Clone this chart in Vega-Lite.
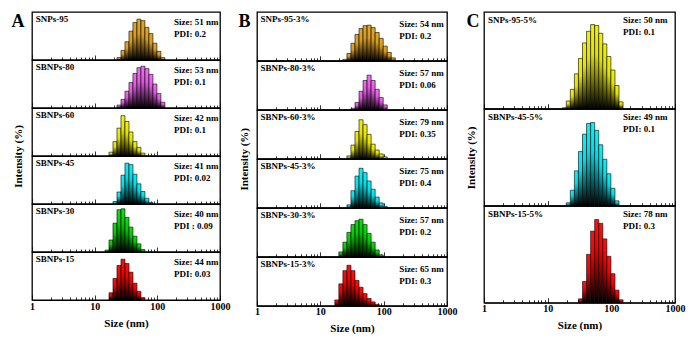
{
  "$schema": "https://vega.github.io/schema/vega-lite/v6.json",
  "background": "white",
  "padding": {"left": 10, "top": 11, "right": 0, "bottom": 0},
  "config": {
    "font": "Liberation Serif",
    "view": {"stroke": "black", "strokeWidth": 1.3},
    "text": {"font": "Liberation Serif", "fontWeight": "bold", "fontSize": 9, "color": "black"},
    "axisX": {"grid": false, "domainColor": "black", "domainWidth": 1, "tickColor": "black", "tickWidth": 0.8, "labelFlush": false, "labelOverlap": false, "labelFont": "Liberation Serif", "labelFontWeight": "bold", "labelFontSize": 10, "labelColor": "black", "titleFont": "Liberation Serif", "titleFontWeight": "bold", "titleFontSize": 11, "titleColor": "black"},
    "axisY": {"domain": false, "ticks": false, "labels": false, "grid": false, "titleFont": "Liberation Serif", "titleFontWeight": "bold", "titleColor": "black"}
  },
  "datasets": {
    "bins": [
      {"k": 0, "lo": 14.62, "hi": 16.93}, {"k": 1, "lo": 16.93, "hi": 19.6}, {"k": 2, "lo": 19.6, "hi": 22.7},
      {"k": 3, "lo": 22.7, "hi": 26.29}, {"k": 4, "lo": 26.29, "hi": 30.44}, {"k": 5, "lo": 30.44, "hi": 35.25},
      {"k": 6, "lo": 35.25, "hi": 40.82}, {"k": 7, "lo": 40.82, "hi": 47.27}, {"k": 8, "lo": 47.27, "hi": 54.74},
      {"k": 9, "lo": 54.74, "hi": 63.39}, {"k": 10, "lo": 63.39, "hi": 73.4}, {"k": 11, "lo": 73.4, "hi": 85.0},
      {"k": 12, "lo": 85.0, "hi": 98.4}, {"k": 13, "lo": 98.4, "hi": 114.0}, {"k": 14, "lo": 114.0, "hi": 132.0},
      {"k": 15, "lo": 132.0, "hi": 152.8}, {"k": 16, "lo": 152.8, "hi": 177.0}
    ],
    "labels": [
      {"s": "A1", "name": "SNPs-95", "info": ["Size: 51 nm", "PDI: 0.2"]},
      {"s": "A2", "name": "SBNPs-80", "info": ["Size: 53 nm", "PDI: 0.1"]},
      {"s": "A3", "name": "SBNPs-60", "info": ["Size: 42 nm", "PDI: 0.1"]},
      {"s": "A4", "name": "SBNPs-45", "info": ["Size: 41 nm", "PDI: 0.02"]},
      {"s": "A5", "name": "SBNPs-30", "info": ["Size: 40 nm", "PDI : 0.09"]},
      {"s": "A6", "name": "SBNPs-15", "info": ["Size: 44 nm", "PDI: 0.03"]},
      {"s": "B1", "name": "SNPs-95-3%", "info": ["Size: 54 nm", "PDI: 0.2"]},
      {"s": "B2", "name": "SBNPs-80-3%", "info": ["Size: 57 nm", "PDI: 0.06"]},
      {"s": "B3", "name": "SBNPs-60-3%", "info": ["Size: 79 nm", "PDI: 0.35"]},
      {"s": "B4", "name": "SBNPs-45-3%", "info": ["Size: 75 nm", "PDI: 0.4"]},
      {"s": "B5", "name": "SBNPs-30-3%", "info": ["Size: 57 nm", "PDI: 0.2"]},
      {"s": "B6", "name": "SBNPs-15-3%", "info": ["Size: 65 nm", "PDI: 0.3"]},
      {"s": "C1", "name": "SNPs-95-5%", "info": ["Size: 50 nm", "PDI: 0.1"]},
      {"s": "C2", "name": "SBNPs-45-5%", "info": ["Size: 49 nm", "PDI: 0.1"]},
      {"s": "C3", "name": "SBNPs-15-5%", "info": ["Size: 78 nm", "PDI: 0.3"]}
    ],
    "hist": [
      {"s": "A1", "k": 3, "v": 1}, {"s": "A1", "k": 4, "v": 4}, {"s": "A1", "k": 5, "v": 7.6}, {"s": "A1", "k": 6, "v": 12}, {"s": "A1", "k": 7, "v": 15.6}, {"s": "A1", "k": 8, "v": 17}, {"s": "A1", "k": 9, "v": 16.4}, {"s": "A1", "k": 10, "v": 13.6}, {"s": "A1", "k": 11, "v": 11}, {"s": "A1", "k": 12, "v": 7}, {"s": "A1", "k": 13, "v": 3.6}, {"s": "A1", "k": 14, "v": 1},
      {"s": "A2", "k": 3, "v": 1.2}, {"s": "A2", "k": 4, "v": 3.6}, {"s": "A2", "k": 5, "v": 7}, {"s": "A2", "k": 6, "v": 10.6}, {"s": "A2", "k": 7, "v": 14.4}, {"s": "A2", "k": 8, "v": 16.8}, {"s": "A2", "k": 9, "v": 17.4}, {"s": "A2", "k": 10, "v": 16.4}, {"s": "A2", "k": 11, "v": 14}, {"s": "A2", "k": 12, "v": 10}, {"s": "A2", "k": 13, "v": 6}, {"s": "A2", "k": 14, "v": 2.4},
      {"s": "A3", "k": 1, "v": 1.6}, {"s": "A3", "k": 2, "v": 6}, {"s": "A3", "k": 3, "v": 11.6}, {"s": "A3", "k": 4, "v": 16.8}, {"s": "A3", "k": 5, "v": 14.4}, {"s": "A3", "k": 6, "v": 10}, {"s": "A3", "k": 7, "v": 6}, {"s": "A3", "k": 8, "v": 3.6}, {"s": "A3", "k": 9, "v": 1.2},
      {"s": "A4", "k": 2, "v": 1}, {"s": "A4", "k": 3, "v": 5}, {"s": "A4", "k": 4, "v": 12}, {"s": "A4", "k": 5, "v": 17}, {"s": "A4", "k": 6, "v": 16.4}, {"s": "A4", "k": 7, "v": 12.4}, {"s": "A4", "k": 8, "v": 8.4}, {"s": "A4", "k": 9, "v": 5.2}, {"s": "A4", "k": 10, "v": 2.4}, {"s": "A4", "k": 11, "v": 0.6},
      {"s": "A5", "k": 0, "v": 0.8}, {"s": "A5", "k": 1, "v": 5}, {"s": "A5", "k": 2, "v": 12}, {"s": "A5", "k": 3, "v": 17.6}, {"s": "A5", "k": 4, "v": 18}, {"s": "A5", "k": 5, "v": 14.4}, {"s": "A5", "k": 6, "v": 10.4}, {"s": "A5", "k": 7, "v": 6.6}, {"s": "A5", "k": 8, "v": 3.4}, {"s": "A5", "k": 9, "v": 1},
      {"s": "A6", "k": 1, "v": 3}, {"s": "A6", "k": 2, "v": 9}, {"s": "A6", "k": 3, "v": 14.4}, {"s": "A6", "k": 4, "v": 17}, {"s": "A6", "k": 5, "v": 15.2}, {"s": "A6", "k": 6, "v": 11.6}, {"s": "A6", "k": 7, "v": 7}, {"s": "A6", "k": 8, "v": 3.6}, {"s": "A6", "k": 9, "v": 1},
      {"s": "B1", "k": 3, "v": 0.6}, {"s": "B1", "k": 4, "v": 3}, {"s": "B1", "k": 5, "v": 7.2}, {"s": "B1", "k": 6, "v": 10.8}, {"s": "B1", "k": 7, "v": 13.2}, {"s": "B1", "k": 8, "v": 14.4}, {"s": "B1", "k": 9, "v": 14.6}, {"s": "B1", "k": 10, "v": 13.6}, {"s": "B1", "k": 11, "v": 11.6}, {"s": "B1", "k": 12, "v": 9.2}, {"s": "B1", "k": 13, "v": 6}, {"s": "B1", "k": 14, "v": 3.4}, {"s": "B1", "k": 15, "v": 1.2},
      {"s": "B2", "k": 5, "v": 0.6}, {"s": "B2", "k": 6, "v": 3}, {"s": "B2", "k": 7, "v": 7.6}, {"s": "B2", "k": 8, "v": 12}, {"s": "B2", "k": 9, "v": 14.2}, {"s": "B2", "k": 10, "v": 12}, {"s": "B2", "k": 11, "v": 8.4}, {"s": "B2", "k": 12, "v": 5}, {"s": "B2", "k": 13, "v": 2},
      {"s": "B3", "k": 4, "v": 1.2}, {"s": "B3", "k": 5, "v": 5.6}, {"s": "B3", "k": 6, "v": 11.2}, {"s": "B3", "k": 7, "v": 16}, {"s": "B3", "k": 8, "v": 14}, {"s": "B3", "k": 9, "v": 10}, {"s": "B3", "k": 10, "v": 6}, {"s": "B3", "k": 11, "v": 3.6}, {"s": "B3", "k": 12, "v": 2}, {"s": "B3", "k": 13, "v": 0.8},
      {"s": "B4", "k": 4, "v": 1.2}, {"s": "B4", "k": 5, "v": 7}, {"s": "B4", "k": 6, "v": 13}, {"s": "B4", "k": 7, "v": 16.2}, {"s": "B4", "k": 8, "v": 14.4}, {"s": "B4", "k": 9, "v": 11}, {"s": "B4", "k": 10, "v": 7.6}, {"s": "B4", "k": 11, "v": 4.4}, {"s": "B4", "k": 12, "v": 2}, {"s": "B4", "k": 13, "v": 0.6},
      {"s": "B5", "k": 2, "v": 2}, {"s": "B5", "k": 3, "v": 6}, {"s": "B5", "k": 4, "v": 10}, {"s": "B5", "k": 5, "v": 13.2}, {"s": "B5", "k": 6, "v": 14.8}, {"s": "B5", "k": 7, "v": 15.4}, {"s": "B5", "k": 8, "v": 13.2}, {"s": "B5", "k": 9, "v": 9.6}, {"s": "B5", "k": 10, "v": 6}, {"s": "B5", "k": 11, "v": 2.8}, {"s": "B5", "k": 12, "v": 0.8},
      {"s": "B6", "k": 1, "v": 2.4}, {"s": "B6", "k": 2, "v": 9}, {"s": "B6", "k": 3, "v": 14.4}, {"s": "B6", "k": 4, "v": 16.6}, {"s": "B6", "k": 5, "v": 14.4}, {"s": "B6", "k": 6, "v": 10.4}, {"s": "B6", "k": 7, "v": 7.6}, {"s": "B6", "k": 8, "v": 5}, {"s": "B6", "k": 9, "v": 3}, {"s": "B6", "k": 10, "v": 1.6}, {"s": "B6", "k": 11, "v": 0.6},
      {"s": "C1", "k": 1, "v": 0.2}, {"s": "C1", "k": 2, "v": 1.6}, {"s": "C1", "k": 3, "v": 4}, {"s": "C1", "k": 4, "v": 7.2}, {"s": "C1", "k": 5, "v": 10.4}, {"s": "C1", "k": 6, "v": 13.6}, {"s": "C1", "k": 7, "v": 16}, {"s": "C1", "k": 8, "v": 17.4}, {"s": "C1", "k": 9, "v": 17.2}, {"s": "C1", "k": 10, "v": 15.6}, {"s": "C1", "k": 11, "v": 13.4}, {"s": "C1", "k": 12, "v": 10.8}, {"s": "C1", "k": 13, "v": 8}, {"s": "C1", "k": 14, "v": 4.8}, {"s": "C1", "k": 15, "v": 1.4},
      {"s": "C2", "k": 2, "v": 0.6}, {"s": "C2", "k": 3, "v": 3.2}, {"s": "C2", "k": 4, "v": 7.2}, {"s": "C2", "k": 5, "v": 11.2}, {"s": "C2", "k": 6, "v": 14.8}, {"s": "C2", "k": 7, "v": 17}, {"s": "C2", "k": 8, "v": 17.2}, {"s": "C2", "k": 9, "v": 15.6}, {"s": "C2", "k": 10, "v": 12.6}, {"s": "C2", "k": 11, "v": 9.6}, {"s": "C2", "k": 12, "v": 6.6}, {"s": "C2", "k": 13, "v": 3.6}, {"s": "C2", "k": 14, "v": 1},
      {"s": "C3", "k": 5, "v": 0.8}, {"s": "C3", "k": 6, "v": 4.4}, {"s": "C3", "k": 7, "v": 10}, {"s": "C3", "k": 8, "v": 14.8}, {"s": "C3", "k": 9, "v": 17.2}, {"s": "C3", "k": 10, "v": 16.4}, {"s": "C3", "k": 11, "v": 13.2}, {"s": "C3", "k": 12, "v": 9.6}, {"s": "C3", "k": 13, "v": 6}, {"s": "C3", "k": 14, "v": 2.6}, {"s": "C3", "k": 15, "v": 0.6}
    ]
  },
  "data": {"name": "hist"},
  "transform": [{"lookup": "k", "from": {"data": {"name": "bins"}, "key": "k", "fields": ["lo", "hi"]}}],
  "spacing": 6,
  "hconcat": [
    {
      "bounds": "flush", "spacing": 0,
      "vconcat": [
        {"width": 188, "height": 48, "layer": [
          {"transform": [{"filter": "datum.s === 'A1'"}], "mark": {"type": "bar", "stroke": "black", "strokeWidth": 0.6, "fill": {"gradient": "linear", "x1": 0, "y1": 0, "x2": 0, "y2": 1, "stops": [{"offset": 0, "color": "#E0A52C"}, {"offset": 0.35, "color": "#D89C24"}, {"offset": 1, "color": "#000000"}]}},
           "encoding": {"x": {"field": "lo", "type": "quantitative", "scale": {"type": "log", "domain": [1, 1000]}, "axis": {"values": [1,2,3,4,5,6,7,8,9,10,20,30,40,50,60,70,80,90,100,200,300,400,500,600,700,800,900,1000], "labels": false, "title": null, "tickSize": {"condition": {"test": "datum.value===1||datum.value===10||datum.value===100||datum.value===1000", "value": -5}, "value": -3}}},
             "x2": {"field": "hi"},
             "y": {"field": "v", "type": "quantitative", "scale": {"domain": [0, 20]}, "axis": {"title": "A", "titleAngle": 0, "titleAnchor": "end", "titleAlign": "right", "titleBaseline": "top", "titleFontSize": 18, "titlePadding": 8}}, "y2": {"datum": 0}}},
          {"data": {"name": "labels"}, "transform": [{"filter": "datum.s === 'A1'"}], "mark": {"type": "text", "align": "left", "baseline": "middle"}, "encoding": {"x": {"datum": 1.15}, "y": {"datum": 17.1}, "text": {"field": "name"}}},
          {"data": {"name": "labels"}, "transform": [{"filter": "datum.s === 'A1'"}], "mark": {"type": "text", "align": "left", "baseline": "top", "lineHeight": 12}, "encoding": {"x": {"datum": 184}, "y": {"datum": 17.7}, "text": {"field": "info"}}}
        ]},
        {"width": 188, "height": 48, "layer": [
          {"transform": [{"filter": "datum.s === 'A2'"}], "mark": {"type": "bar", "stroke": "black", "strokeWidth": 0.6, "fill": {"gradient": "linear", "x1": 0, "y1": 0, "x2": 0, "y2": 1, "stops": [{"offset": 0, "color": "#F070F0"}, {"offset": 0.35, "color": "#E058E0"}, {"offset": 1, "color": "#000000"}]}},
           "encoding": {"x": {"field": "lo", "type": "quantitative", "scale": {"type": "log", "domain": [1, 1000]}, "axis": {"values": [1,2,3,4,5,6,7,8,9,10,20,30,40,50,60,70,80,90,100,200,300,400,500,600,700,800,900,1000], "labels": false, "title": null, "tickSize": {"condition": {"test": "datum.value===1||datum.value===10||datum.value===100||datum.value===1000", "value": -5}, "value": -3}}},
             "x2": {"field": "hi"},
             "y": {"field": "v", "type": "quantitative", "scale": {"domain": [0, 20]}, "axis": null}, "y2": {"datum": 0}}},
          {"data": {"name": "labels"}, "transform": [{"filter": "datum.s === 'A2'"}], "mark": {"type": "text", "align": "left", "baseline": "middle"}, "encoding": {"x": {"datum": 1.15}, "y": {"datum": 17.1}, "text": {"field": "name"}}},
          {"data": {"name": "labels"}, "transform": [{"filter": "datum.s === 'A2'"}], "mark": {"type": "text", "align": "left", "baseline": "top", "lineHeight": 12}, "encoding": {"x": {"datum": 184}, "y": {"datum": 17.7}, "text": {"field": "info"}}}
        ]},
        {"width": 188, "height": 48, "layer": [
          {"transform": [{"filter": "datum.s === 'A3'"}], "mark": {"type": "bar", "stroke": "black", "strokeWidth": 0.6, "fill": {"gradient": "linear", "x1": 0, "y1": 0, "x2": 0, "y2": 1, "stops": [{"offset": 0, "color": "#F2F200"}, {"offset": 0.35, "color": "#E2E200"}, {"offset": 1, "color": "#000000"}]}},
           "encoding": {"x": {"field": "lo", "type": "quantitative", "scale": {"type": "log", "domain": [1, 1000]}, "axis": {"values": [1,2,3,4,5,6,7,8,9,10,20,30,40,50,60,70,80,90,100,200,300,400,500,600,700,800,900,1000], "labels": false, "title": null, "tickSize": {"condition": {"test": "datum.value===1||datum.value===10||datum.value===100||datum.value===1000", "value": -5}, "value": -3}}},
             "x2": {"field": "hi"},
             "y": {"field": "v", "type": "quantitative", "scale": {"domain": [0, 20]}, "axis": {"title": "Intensity (%)", "titleAnchor": "start", "titleAlign": "center", "titleFontSize": 11, "titlePadding": 9}}, "y2": {"datum": 0}}},
          {"data": {"name": "labels"}, "transform": [{"filter": "datum.s === 'A3'"}], "mark": {"type": "text", "align": "left", "baseline": "middle"}, "encoding": {"x": {"datum": 1.15}, "y": {"datum": 17.1}, "text": {"field": "name"}}},
          {"data": {"name": "labels"}, "transform": [{"filter": "datum.s === 'A3'"}], "mark": {"type": "text", "align": "left", "baseline": "top", "lineHeight": 12}, "encoding": {"x": {"datum": 184}, "y": {"datum": 17.7}, "text": {"field": "info"}}}
        ]},
        {"width": 188, "height": 48, "layer": [
          {"transform": [{"filter": "datum.s === 'A4'"}], "mark": {"type": "bar", "stroke": "black", "strokeWidth": 0.6, "fill": {"gradient": "linear", "x1": 0, "y1": 0, "x2": 0, "y2": 1, "stops": [{"offset": 0, "color": "#10F0F8"}, {"offset": 0.35, "color": "#00DCE6"}, {"offset": 1, "color": "#000000"}]}},
           "encoding": {"x": {"field": "lo", "type": "quantitative", "scale": {"type": "log", "domain": [1, 1000]}, "axis": {"values": [1,2,3,4,5,6,7,8,9,10,20,30,40,50,60,70,80,90,100,200,300,400,500,600,700,800,900,1000], "labels": false, "title": null, "tickSize": {"condition": {"test": "datum.value===1||datum.value===10||datum.value===100||datum.value===1000", "value": -5}, "value": -3}}},
             "x2": {"field": "hi"},
             "y": {"field": "v", "type": "quantitative", "scale": {"domain": [0, 20]}, "axis": null}, "y2": {"datum": 0}}},
          {"data": {"name": "labels"}, "transform": [{"filter": "datum.s === 'A4'"}], "mark": {"type": "text", "align": "left", "baseline": "middle"}, "encoding": {"x": {"datum": 1.15}, "y": {"datum": 17.1}, "text": {"field": "name"}}},
          {"data": {"name": "labels"}, "transform": [{"filter": "datum.s === 'A4'"}], "mark": {"type": "text", "align": "left", "baseline": "top", "lineHeight": 12}, "encoding": {"x": {"datum": 184}, "y": {"datum": 17.7}, "text": {"field": "info"}}}
        ]},
        {"width": 188, "height": 48, "layer": [
          {"transform": [{"filter": "datum.s === 'A5'"}], "mark": {"type": "bar", "stroke": "black", "strokeWidth": 0.6, "fill": {"gradient": "linear", "x1": 0, "y1": 0, "x2": 0, "y2": 1, "stops": [{"offset": 0, "color": "#10E010"}, {"offset": 0.35, "color": "#00C800"}, {"offset": 1, "color": "#000000"}]}},
           "encoding": {"x": {"field": "lo", "type": "quantitative", "scale": {"type": "log", "domain": [1, 1000]}, "axis": {"values": [1,2,3,4,5,6,7,8,9,10,20,30,40,50,60,70,80,90,100,200,300,400,500,600,700,800,900,1000], "labels": false, "title": null, "tickSize": {"condition": {"test": "datum.value===1||datum.value===10||datum.value===100||datum.value===1000", "value": -5}, "value": -3}}},
             "x2": {"field": "hi"},
             "y": {"field": "v", "type": "quantitative", "scale": {"domain": [0, 20]}, "axis": null}, "y2": {"datum": 0}}},
          {"data": {"name": "labels"}, "transform": [{"filter": "datum.s === 'A5'"}], "mark": {"type": "text", "align": "left", "baseline": "middle"}, "encoding": {"x": {"datum": 1.15}, "y": {"datum": 17.1}, "text": {"field": "name"}}},
          {"data": {"name": "labels"}, "transform": [{"filter": "datum.s === 'A5'"}], "mark": {"type": "text", "align": "left", "baseline": "top", "lineHeight": 12}, "encoding": {"x": {"datum": 184}, "y": {"datum": 17.7}, "text": {"field": "info"}}}
        ]},
        {"width": 188, "height": 48, "layer": [
          {"transform": [{"filter": "datum.s === 'A6'"}], "mark": {"type": "bar", "stroke": "black", "strokeWidth": 0.6, "fill": {"gradient": "linear", "x1": 0, "y1": 0, "x2": 0, "y2": 1, "stops": [{"offset": 0, "color": "#FF1010"}, {"offset": 0.35, "color": "#F00000"}, {"offset": 1, "color": "#000000"}]}},
           "encoding": {"x": {"field": "lo", "type": "quantitative", "scale": {"type": "log", "domain": [1, 1000]}, "axis": {"values": [1,2,3,4,5,6,7,8,9,10,20,30,40,50,60,70,80,90,100,200,300,400,500,600,700,800,900,1000], "labels": true, "labelExpr": "datum.value===1||datum.value===10||datum.value===100||datum.value===1000 ? '' + datum.value : ''", "labelPadding": 6, "title": "Size (nm)", "titlePadding": 4, "tickSize": {"condition": {"test": "datum.value===1||datum.value===10||datum.value===100||datum.value===1000", "value": -5}, "value": -3}}},
             "x2": {"field": "hi"},
             "y": {"field": "v", "type": "quantitative", "scale": {"domain": [0, 20]}, "axis": null}, "y2": {"datum": 0}}},
          {"data": {"name": "labels"}, "transform": [{"filter": "datum.s === 'A6'"}], "mark": {"type": "text", "align": "left", "baseline": "middle"}, "encoding": {"x": {"datum": 1.15}, "y": {"datum": 17.1}, "text": {"field": "name"}}},
          {"data": {"name": "labels"}, "transform": [{"filter": "datum.s === 'A6'"}], "mark": {"type": "text", "align": "left", "baseline": "top", "lineHeight": 12}, "encoding": {"x": {"datum": 184}, "y": {"datum": 17.7}, "text": {"field": "info"}}}
        ]}
      ]
    },
    {
      "bounds": "flush", "spacing": 0,
      "vconcat": [
        {"width": 190, "height": 48.8, "layer": [
          {"transform": [{"filter": "datum.s === 'B1'"}], "mark": {"type": "bar", "stroke": "black", "strokeWidth": 0.6, "fill": {"gradient": "linear", "x1": 0, "y1": 0, "x2": 0, "y2": 1, "stops": [{"offset": 0, "color": "#E0A52C"}, {"offset": 0.35, "color": "#D89C24"}, {"offset": 1, "color": "#000000"}]}},
           "encoding": {"x": {"field": "lo", "type": "quantitative", "scale": {"type": "log", "domain": [1, 1000]}, "axis": {"values": [1,2,3,4,5,6,7,8,9,10,20,30,40,50,60,70,80,90,100,200,300,400,500,600,700,800,900,1000], "labels": false, "title": null, "tickSize": {"condition": {"test": "datum.value===1||datum.value===10||datum.value===100||datum.value===1000", "value": -5}, "value": -3}}},
             "x2": {"field": "hi"},
             "y": {"field": "v", "type": "quantitative", "scale": {"domain": [0, 20]}, "axis": {"title": "B", "titleAngle": 0, "titleAnchor": "end", "titleAlign": "right", "titleBaseline": "top", "titleFontSize": 18, "titlePadding": 7}}, "y2": {"datum": 0}}},
          {"data": {"name": "labels"}, "transform": [{"filter": "datum.s === 'B1'"}], "mark": {"type": "text", "align": "left", "baseline": "middle"}, "encoding": {"x": {"datum": 1.14}, "y": {"datum": 17.2}, "text": {"field": "name"}}},
          {"data": {"name": "labels"}, "transform": [{"filter": "datum.s === 'B1'"}], "mark": {"type": "text", "align": "left", "baseline": "top", "lineHeight": 12}, "encoding": {"x": {"datum": 177}, "y": {"datum": 16.9}, "text": {"field": "info"}}}
        ]},
        {"width": 190, "height": 48.8, "layer": [
          {"transform": [{"filter": "datum.s === 'B2'"}], "mark": {"type": "bar", "stroke": "black", "strokeWidth": 0.6, "fill": {"gradient": "linear", "x1": 0, "y1": 0, "x2": 0, "y2": 1, "stops": [{"offset": 0, "color": "#F070F0"}, {"offset": 0.35, "color": "#E058E0"}, {"offset": 1, "color": "#000000"}]}},
           "encoding": {"x": {"field": "lo", "type": "quantitative", "scale": {"type": "log", "domain": [1, 1000]}, "axis": {"values": [1,2,3,4,5,6,7,8,9,10,20,30,40,50,60,70,80,90,100,200,300,400,500,600,700,800,900,1000], "labels": false, "title": null, "tickSize": {"condition": {"test": "datum.value===1||datum.value===10||datum.value===100||datum.value===1000", "value": -5}, "value": -3}}},
             "x2": {"field": "hi"},
             "y": {"field": "v", "type": "quantitative", "scale": {"domain": [0, 20]}, "axis": null}, "y2": {"datum": 0}}},
          {"data": {"name": "labels"}, "transform": [{"filter": "datum.s === 'B2'"}], "mark": {"type": "text", "align": "left", "baseline": "middle"}, "encoding": {"x": {"datum": 1.14}, "y": {"datum": 17.2}, "text": {"field": "name"}}},
          {"data": {"name": "labels"}, "transform": [{"filter": "datum.s === 'B2'"}], "mark": {"type": "text", "align": "left", "baseline": "top", "lineHeight": 12}, "encoding": {"x": {"datum": 177}, "y": {"datum": 16.9}, "text": {"field": "info"}}}
        ]},
        {"width": 190, "height": 48.8, "layer": [
          {"transform": [{"filter": "datum.s === 'B3'"}], "mark": {"type": "bar", "stroke": "black", "strokeWidth": 0.6, "fill": {"gradient": "linear", "x1": 0, "y1": 0, "x2": 0, "y2": 1, "stops": [{"offset": 0, "color": "#F2F200"}, {"offset": 0.35, "color": "#E2E200"}, {"offset": 1, "color": "#000000"}]}},
           "encoding": {"x": {"field": "lo", "type": "quantitative", "scale": {"type": "log", "domain": [1, 1000]}, "axis": {"values": [1,2,3,4,5,6,7,8,9,10,20,30,40,50,60,70,80,90,100,200,300,400,500,600,700,800,900,1000], "labels": false, "title": null, "tickSize": {"condition": {"test": "datum.value===1||datum.value===10||datum.value===100||datum.value===1000", "value": -5}, "value": -3}}},
             "x2": {"field": "hi"},
             "y": {"field": "v", "type": "quantitative", "scale": {"domain": [0, 20]}, "axis": {"title": "Intensity (%)", "titleAnchor": "start", "titleAlign": "center", "titleFontSize": 11, "titlePadding": 8}}, "y2": {"datum": 0}}},
          {"data": {"name": "labels"}, "transform": [{"filter": "datum.s === 'B3'"}], "mark": {"type": "text", "align": "left", "baseline": "middle"}, "encoding": {"x": {"datum": 1.14}, "y": {"datum": 17.2}, "text": {"field": "name"}}},
          {"data": {"name": "labels"}, "transform": [{"filter": "datum.s === 'B3'"}], "mark": {"type": "text", "align": "left", "baseline": "top", "lineHeight": 12}, "encoding": {"x": {"datum": 177}, "y": {"datum": 16.9}, "text": {"field": "info"}}}
        ]},
        {"width": 190, "height": 48.8, "layer": [
          {"transform": [{"filter": "datum.s === 'B4'"}], "mark": {"type": "bar", "stroke": "black", "strokeWidth": 0.6, "fill": {"gradient": "linear", "x1": 0, "y1": 0, "x2": 0, "y2": 1, "stops": [{"offset": 0, "color": "#10F0F8"}, {"offset": 0.35, "color": "#00DCE6"}, {"offset": 1, "color": "#000000"}]}},
           "encoding": {"x": {"field": "lo", "type": "quantitative", "scale": {"type": "log", "domain": [1, 1000]}, "axis": {"values": [1,2,3,4,5,6,7,8,9,10,20,30,40,50,60,70,80,90,100,200,300,400,500,600,700,800,900,1000], "labels": false, "title": null, "tickSize": {"condition": {"test": "datum.value===1||datum.value===10||datum.value===100||datum.value===1000", "value": -5}, "value": -3}}},
             "x2": {"field": "hi"},
             "y": {"field": "v", "type": "quantitative", "scale": {"domain": [0, 20]}, "axis": null}, "y2": {"datum": 0}}},
          {"data": {"name": "labels"}, "transform": [{"filter": "datum.s === 'B4'"}], "mark": {"type": "text", "align": "left", "baseline": "middle"}, "encoding": {"x": {"datum": 1.14}, "y": {"datum": 17.2}, "text": {"field": "name"}}},
          {"data": {"name": "labels"}, "transform": [{"filter": "datum.s === 'B4'"}], "mark": {"type": "text", "align": "left", "baseline": "top", "lineHeight": 12}, "encoding": {"x": {"datum": 177}, "y": {"datum": 16.9}, "text": {"field": "info"}}}
        ]},
        {"width": 190, "height": 48.8, "layer": [
          {"transform": [{"filter": "datum.s === 'B5'"}], "mark": {"type": "bar", "stroke": "black", "strokeWidth": 0.6, "fill": {"gradient": "linear", "x1": 0, "y1": 0, "x2": 0, "y2": 1, "stops": [{"offset": 0, "color": "#10E010"}, {"offset": 0.35, "color": "#00C800"}, {"offset": 1, "color": "#000000"}]}},
           "encoding": {"x": {"field": "lo", "type": "quantitative", "scale": {"type": "log", "domain": [1, 1000]}, "axis": {"values": [1,2,3,4,5,6,7,8,9,10,20,30,40,50,60,70,80,90,100,200,300,400,500,600,700,800,900,1000], "labels": false, "title": null, "tickSize": {"condition": {"test": "datum.value===1||datum.value===10||datum.value===100||datum.value===1000", "value": -5}, "value": -3}}},
             "x2": {"field": "hi"},
             "y": {"field": "v", "type": "quantitative", "scale": {"domain": [0, 20]}, "axis": null}, "y2": {"datum": 0}}},
          {"data": {"name": "labels"}, "transform": [{"filter": "datum.s === 'B5'"}], "mark": {"type": "text", "align": "left", "baseline": "middle"}, "encoding": {"x": {"datum": 1.14}, "y": {"datum": 17.2}, "text": {"field": "name"}}},
          {"data": {"name": "labels"}, "transform": [{"filter": "datum.s === 'B5'"}], "mark": {"type": "text", "align": "left", "baseline": "top", "lineHeight": 12}, "encoding": {"x": {"datum": 177}, "y": {"datum": 16.9}, "text": {"field": "info"}}}
        ]},
        {"width": 190, "height": 48.8, "layer": [
          {"transform": [{"filter": "datum.s === 'B6'"}], "mark": {"type": "bar", "stroke": "black", "strokeWidth": 0.6, "fill": {"gradient": "linear", "x1": 0, "y1": 0, "x2": 0, "y2": 1, "stops": [{"offset": 0, "color": "#FF1010"}, {"offset": 0.35, "color": "#F00000"}, {"offset": 1, "color": "#000000"}]}},
           "encoding": {"x": {"field": "lo", "type": "quantitative", "scale": {"type": "log", "domain": [1, 1000]}, "axis": {"values": [1,2,3,4,5,6,7,8,9,10,20,30,40,50,60,70,80,90,100,200,300,400,500,600,700,800,900,1000], "labels": true, "labelExpr": "datum.value===1||datum.value===10||datum.value===100||datum.value===1000 ? '' + datum.value : ''", "labelPadding": 6, "title": "Size (nm)", "titlePadding": 4, "tickSize": {"condition": {"test": "datum.value===1||datum.value===10||datum.value===100||datum.value===1000", "value": -5}, "value": -3}}},
             "x2": {"field": "hi"},
             "y": {"field": "v", "type": "quantitative", "scale": {"domain": [0, 20]}, "axis": null}, "y2": {"datum": 0}}},
          {"data": {"name": "labels"}, "transform": [{"filter": "datum.s === 'B6'"}], "mark": {"type": "text", "align": "left", "baseline": "middle"}, "encoding": {"x": {"datum": 1.14}, "y": {"datum": 17.2}, "text": {"field": "name"}}},
          {"data": {"name": "labels"}, "transform": [{"filter": "datum.s === 'B6'"}], "mark": {"type": "text", "align": "left", "baseline": "top", "lineHeight": 12}, "encoding": {"x": {"datum": 177}, "y": {"datum": 16.9}, "text": {"field": "info"}}}
        ]}
      ]
    },
    {
      "bounds": "flush", "spacing": 0,
      "vconcat": [
        {"width": 191, "height": 96.7, "layer": [
          {"transform": [{"filter": "datum.s === 'C1'"}], "mark": {"type": "bar", "stroke": "black", "strokeWidth": 0.6, "fill": {"gradient": "linear", "x1": 0, "y1": 0, "x2": 0, "y2": 1, "stops": [{"offset": 0, "color": "#F2F200"}, {"offset": 0.35, "color": "#E2E200"}, {"offset": 1, "color": "#000000"}]}},
           "encoding": {"x": {"field": "lo", "type": "quantitative", "scale": {"type": "log", "domain": [1, 1000]}, "axis": {"values": [1,2,3,4,5,6,7,8,9,10,20,30,40,50,60,70,80,90,100,200,300,400,500,600,700,800,900,1000], "labels": false, "title": null, "tickSize": {"condition": {"test": "datum.value===1||datum.value===10||datum.value===100||datum.value===1000", "value": -5}, "value": -3}}},
             "x2": {"field": "hi"},
             "y": {"field": "v", "type": "quantitative", "scale": {"domain": [0, 20]}, "axis": {"title": "C", "titleAngle": 0, "titleAnchor": "end", "titleAlign": "right", "titleBaseline": "top", "titleFontSize": 18, "titlePadding": 5}}, "y2": {"datum": 0}}},
          {"data": {"name": "labels"}, "transform": [{"filter": "datum.s === 'C1'"}], "mark": {"type": "text", "align": "left", "baseline": "middle"}, "encoding": {"x": {"datum": 1.155}, "y": {"datum": 18.3}, "text": {"field": "name"}}},
          {"data": {"name": "labels"}, "transform": [{"filter": "datum.s === 'C1'"}], "mark": {"type": "text", "align": "left", "baseline": "top", "lineHeight": 12}, "encoding": {"x": {"datum": 152}, "y": {"datum": 19.2}, "text": {"field": "info"}}}
        ]},
        {"width": 191, "height": 96.7, "layer": [
          {"transform": [{"filter": "datum.s === 'C2'"}], "mark": {"type": "bar", "stroke": "black", "strokeWidth": 0.6, "fill": {"gradient": "linear", "x1": 0, "y1": 0, "x2": 0, "y2": 1, "stops": [{"offset": 0, "color": "#10F0F8"}, {"offset": 0.35, "color": "#00DCE6"}, {"offset": 1, "color": "#000000"}]}},
           "encoding": {"x": {"field": "lo", "type": "quantitative", "scale": {"type": "log", "domain": [1, 1000]}, "axis": {"values": [1,2,3,4,5,6,7,8,9,10,20,30,40,50,60,70,80,90,100,200,300,400,500,600,700,800,900,1000], "labels": false, "title": null, "tickSize": {"condition": {"test": "datum.value===1||datum.value===10||datum.value===100||datum.value===1000", "value": -5}, "value": -3}}},
             "x2": {"field": "hi"},
             "y": {"field": "v", "type": "quantitative", "scale": {"domain": [0, 20]}, "axis": {"title": "Intensity (%)", "titleAnchor": "middle", "titleFontSize": 11, "titlePadding": 8}}, "y2": {"datum": 0}}},
          {"data": {"name": "labels"}, "transform": [{"filter": "datum.s === 'C2'"}], "mark": {"type": "text", "align": "left", "baseline": "middle"}, "encoding": {"x": {"datum": 1.155}, "y": {"datum": 18.3}, "text": {"field": "name"}}},
          {"data": {"name": "labels"}, "transform": [{"filter": "datum.s === 'C2'"}], "mark": {"type": "text", "align": "left", "baseline": "top", "lineHeight": 12}, "encoding": {"x": {"datum": 152}, "y": {"datum": 19.2}, "text": {"field": "info"}}}
        ]},
        {"width": 191, "height": 96.7, "layer": [
          {"transform": [{"filter": "datum.s === 'C3'"}], "mark": {"type": "bar", "stroke": "black", "strokeWidth": 0.6, "fill": {"gradient": "linear", "x1": 0, "y1": 0, "x2": 0, "y2": 1, "stops": [{"offset": 0, "color": "#FF1010"}, {"offset": 0.35, "color": "#F00000"}, {"offset": 1, "color": "#000000"}]}},
           "encoding": {"x": {"field": "lo", "type": "quantitative", "scale": {"type": "log", "domain": [1, 1000]}, "axis": {"values": [1,2,3,4,5,6,7,8,9,10,20,30,40,50,60,70,80,90,100,200,300,400,500,600,700,800,900,1000], "labels": true, "labelExpr": "datum.value===1||datum.value===10||datum.value===100||datum.value===1000 ? '' + datum.value : ''", "labelPadding": 6, "title": "Size (nm)", "titlePadding": 4, "tickSize": {"condition": {"test": "datum.value===1||datum.value===10||datum.value===100||datum.value===1000", "value": -5}, "value": -3}}},
             "x2": {"field": "hi"},
             "y": {"field": "v", "type": "quantitative", "scale": {"domain": [0, 20]}, "axis": null}, "y2": {"datum": 0}}},
          {"data": {"name": "labels"}, "transform": [{"filter": "datum.s === 'C3'"}], "mark": {"type": "text", "align": "left", "baseline": "middle"}, "encoding": {"x": {"datum": 1.155}, "y": {"datum": 18.3}, "text": {"field": "name"}}},
          {"data": {"name": "labels"}, "transform": [{"filter": "datum.s === 'C3'"}], "mark": {"type": "text", "align": "left", "baseline": "top", "lineHeight": 12}, "encoding": {"x": {"datum": 152}, "y": {"datum": 19.2}, "text": {"field": "info"}}}
        ]}
      ]
    }
  ]
}
